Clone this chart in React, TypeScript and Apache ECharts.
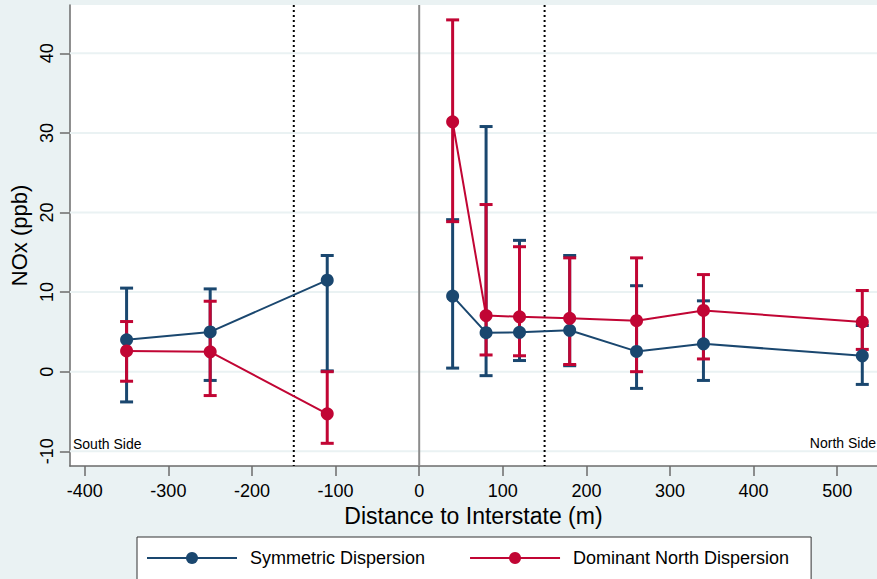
import React, { useEffect, useRef } from "react";
import * as echarts from "echarts";

const distances = [-350, -250, -110, 40, 80, 120, 180, 260, 340, 530];
const symMean = [4.0, 5.0, 11.5, 9.5, 4.9, 4.95, 5.2, 2.55, 3.5, 2.0];
const symLow = [-3.8, -1.1, 0.1, 0.45, -0.5, 1.4, 0.75, -2.1, -1.1, -1.6];
const symHigh = [10.5, 10.4, 14.6, 19.1, 30.8, 16.5, 14.6, 10.8, 8.9, 5.8];
const domMean = [2.6, 2.5, -5.3, 31.4, 7.05, 6.9, 6.7, 6.4, 7.7, 6.25];
const domLow = [-1.2, -3.0, -9.0, 18.85, 2.1, 2.0, 0.9, 0.0, 1.6, 2.8];
const domHigh = [6.3, 8.85, 0.0, 44.2, 21.0, 15.7, 14.3, 14.3, 12.2, 10.2];

const xTicks = [-400, -300, -200, -100, 0, 100, 200, 300, 400, 500];
const yTicks = [-10, 0, 10, 20, 30, 40];
const dottedLines = [-150, 150];
const solidLines = [0];

const seriesNames = ["Symmetric Dispersion", "Dominant North Dispersion"];
const sideLabels = ["South Side", "North Side"];

const BLUE = "#1a476f";
const RED = "#c10534";
const BG = "#eaf2f3";
const FONT = "'Liberation Sans', Arial, Helvetica, sans-serif";

// South-side and north-side points are connected separately (break at the interstate)
const withGap = (vals: number[]) => {
  const out: any[] = [];
  distances.forEach((d, i) => {
    if (i > 0 && distances[i - 1] < 0 && d > 0) out.push("-");
    out.push([d, vals[i]]);
  });
  return out;
};

export default function App() {
  const ref = useRef<HTMLDivElement>(null);

  useEffect(() => {
    if (!ref.current) return;
    const chart = echarts.init(ref.current, null, { renderer: "svg" });

    const errorBars = (color: string, low: number[], high: number[]) => ({
      type: "custom",
      silent: true,
      encode: { x: 0, y: [1, 2] },
      data: distances.map((d, i) => [d, low[i], high[i]]),
      renderItem: (params: any, api: any) => {
        const x = api.value(0);
        const top = api.coord([x, api.value(2)]);
        const bot = api.coord([x, api.value(1)]);
        const hw = 6.5;
        const style = { stroke: color, lineWidth: 3 };
        return {
          type: "group",
          children: [
            { type: "line", shape: { x1: top[0], y1: top[1], x2: bot[0], y2: bot[1] }, style },
            { type: "line", shape: { x1: top[0] - hw, y1: top[1], x2: top[0] + hw, y2: top[1] }, style },
            { type: "line", shape: { x1: bot[0] - hw, y1: bot[1], x2: bot[0] + hw, y2: bot[1] }, style },
          ],
        };
      },
    });

    const vLines = (vals: number[], style: any) => ({
      type: "custom",
      silent: true,
      encode: { x: 0, y: 1 },
      data: vals.map((v) => [v, 0]),
      renderItem: (params: any, api: any) => {
        const cs = params.coordSys;
        const x = api.coord([api.value(0), 0])[0];
        return {
          type: "line",
          shape: { x1: x, y1: cs.y, x2: x, y2: cs.y + cs.height },
          style,
        };
      },
    });

    const option: any = {
      animation: false,
      backgroundColor: BG,
      textStyle: { fontFamily: FONT },
      grid: {
        left: 69,
        top: 5,
        width: 812,
        height: 461,
        show: true,
        backgroundColor: "#ffffff",
        borderWidth: 0,
        containLabel: false,
      },
      legend: {
        data: seriesNames,
        left: 137,
        top: 537,
        orient: "horizontal",
        backgroundColor: "#ffffff",
        borderColor: "#333333",
        borderWidth: 1,
        borderRadius: 0,
        padding: [12, 22, 16, 9],
        itemWidth: 90,
        itemHeight: 15,
        itemGap: 44,
        textStyle: { fontSize: 18, color: "#000", fontFamily: FONT, padding: [0, 0, 0, 8] },
      },
      xAxis: {
        type: "value",
        min: -417.8,
        max: 547.6,
        name: "Distance to Interstate (m)",
        nameLocation: "middle",
        nameGap: 34,
        nameTextStyle: { fontSize: 23, color: "#000", fontFamily: FONT },
        axisLine: { show: true, onZero: false, lineStyle: { color: "#6b6b6b", width: 1.5 } },
        axisTick: { show: true, length: 10, customValues: xTicks, lineStyle: { color: "#6b6b6b", width: 1.5 } },
        axisLabel: { customValues: xTicks, fontSize: 18, color: "#000", margin: 16, fontFamily: FONT },
        splitLine: { show: false },
      },
      yAxis: {
        type: "value",
        min: -11.85,
        max: 46.07,
        name: "NOx (ppb)",
        nameLocation: "middle",
        nameGap: 36,
        nameTextStyle: { fontSize: 22, color: "#000", fontFamily: FONT },
        axisLine: { show: true, onZero: false, lineStyle: { color: "#6b6b6b", width: 1.5 } },
        axisTick: { show: true, length: 10, customValues: yTicks, lineStyle: { color: "#6b6b6b", width: 1.5 } },
        axisLabel: { customValues: yTicks, fontSize: 18, color: "#000", margin: 14, rotate: 90, fontFamily: FONT },
        splitLine: { show: false },
      },
      graphic: [
        {
          type: "text",
          left: 73,
          top: 437,
          style: { text: sideLabels[0], fontSize: 14, fill: "#000", fontFamily: FONT },
        },
        {
          type: "text",
          right: 1,
          top: 436,
          style: { text: sideLabels[1], fontSize: 14, fill: "#000", fontFamily: FONT },
        },
      ],
      series: [
        {
          type: "custom",
          silent: true,
          encode: { x: 0, y: 1 },
          data: yTicks.map((v) => [0, v]),
          renderItem: (params: any, api: any) => {
            const cs = params.coordSys;
            const y = api.coord([0, api.value(1)])[1];
            return {
              type: "line",
              shape: { x1: cs.x, y1: y, x2: cs.x + cs.width, y2: y },
              style: { stroke: BG, lineWidth: 2 },
            };
          },
        },
        vLines(solidLines, { stroke: "#8c8c8c", lineWidth: 2 }),
        vLines(dottedLines, { stroke: "#000000", lineWidth: 2, lineDash: [2, 3] }),
        errorBars(BLUE, symLow, symHigh),
        errorBars(RED, domLow, domHigh),
        {
          name: seriesNames[0],
          type: "line",
          data: withGap(symMean),
          connectNulls: false,
          symbol: "circle",
          symbolSize: 13,
          showSymbol: true,
          lineStyle: { color: BLUE, width: 2 },
          itemStyle: { color: BLUE },
        },
        {
          name: seriesNames[1],
          type: "line",
          data: withGap(domMean),
          connectNulls: false,
          symbol: "circle",
          symbolSize: 13,
          showSymbol: true,
          lineStyle: { color: RED, width: 2 },
          itemStyle: { color: RED },
        },
      ],
    };

    chart.setOption(option);
    return () => chart.dispose();
  }, []);

  return (
    <div
      ref={ref}
      style={{ position: "fixed", left: 0, top: 0, width: 877, height: 579 }}
    />
  );
}
